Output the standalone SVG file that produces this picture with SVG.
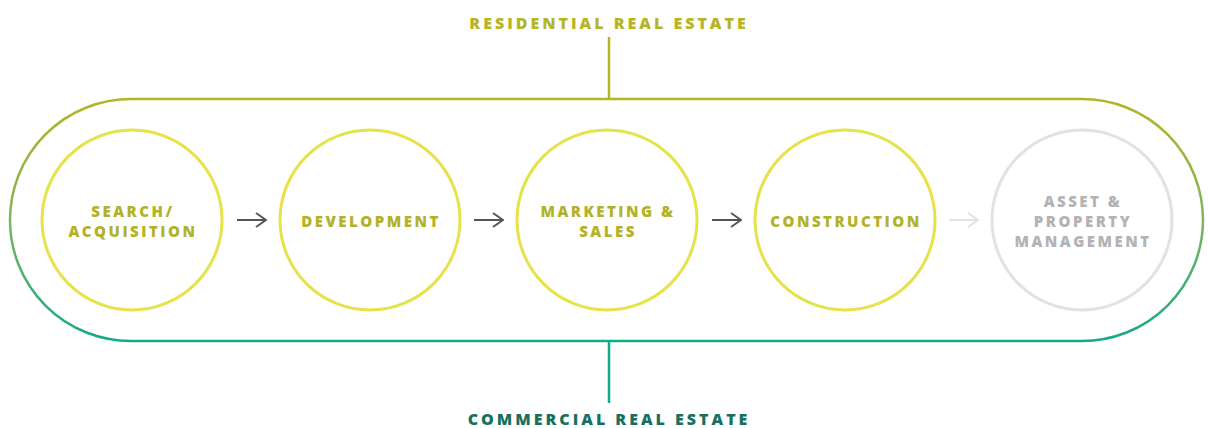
<svg xmlns="http://www.w3.org/2000/svg" width="1208" height="428" viewBox="0 0 1208 428">
  <defs>
    <linearGradient id="frameGrad" gradientUnits="userSpaceOnUse" x1="0" y1="99" x2="0" y2="341">
      <stop offset="0" stop-color="#b4b424"/>
      <stop offset="0.5" stop-color="#7fb55a"/>
      <stop offset="1" stop-color="#13a98b"/>
    </linearGradient>
    <marker id="arrowDark" viewBox="0 0 12 16" refX="11" refY="8" markerWidth="12" markerHeight="16" markerUnits="userSpaceOnUse" orient="auto">
      <path d="M1 1 L11 8 L1 15" fill="none" stroke="#555555" stroke-width="2"/>
    </marker>
    <marker id="arrowLight" viewBox="0 0 12 16" refX="11" refY="8" markerWidth="12" markerHeight="16" markerUnits="userSpaceOnUse" orient="auto">
      <path d="M1 1 L11 8 L1 15" fill="none" stroke="#e2e2e2" stroke-width="2"/>
    </marker>
  </defs>
  <style>
    .label { font-family: "Open Sans", "Liberation Sans", sans-serif; font-weight: 800; text-anchor: middle; }
    .title { font-size: 16px; letter-spacing: 3px; }
    .step { font-size: 15px; letter-spacing: 2.5px; fill: #b2b22a; }
    .stepOff { font-size: 15px; letter-spacing: 2.5px; fill: #b3b3b3; }
    .ring { fill: none; stroke: #e6e24a; stroke-width: 3; }
    .ringOff { fill: none; stroke: #e2e2e2; stroke-width: 3; }
    .link { stroke: #555555; stroke-width: 2; fill: none; }
    .linkOff { stroke: #e2e2e2; stroke-width: 2; fill: none; }
  </style>

  <rect width="1208" height="428" fill="#ffffff"/>

  <!-- market labels and their ticks -->
  <g id="residential">
    <text class="label title" x="609" y="29" fill="#b4b424">RESIDENTIAL REAL ESTATE</text>
    <line x1="609" y1="37" x2="609" y2="99" stroke="#b4b424" stroke-width="2.5"/>
  </g>
  <g id="commercial">
    <line x1="609" y1="341" x2="609" y2="403" stroke="#13a98b" stroke-width="2.5"/>
    <text class="label title" x="609" y="425" fill="#17705f">COMMERCIAL REAL ESTATE</text>
  </g>

  <!-- outer frame spanning both markets -->
  <g id="frame">
    <rect x="10" y="99" width="1193" height="242" rx="121" ry="121" fill="none" stroke="url(#frameGrad)" stroke-width="2.5"/>
  </g>

  <!-- flow connectors -->
  <g id="connectors">
    <line class="link" x1="237" y1="220" x2="266" y2="220" marker-end="url(#arrowDark)"/>
    <line class="link" x1="474" y1="220" x2="503" y2="220" marker-end="url(#arrowDark)"/>
    <line class="link" x1="712" y1="220" x2="741" y2="220" marker-end="url(#arrowDark)"/>
    <line class="linkOff" x1="949" y1="220" x2="978" y2="220" marker-end="url(#arrowLight)"/>
  </g>

  <!-- stages -->
  <g id="search">
    <circle class="ring" cx="132" cy="220" r="90"/>
    <text class="label step" x="133" y="217">SEARCH/</text>
    <text class="label step" x="133" y="237">ACQUISITION</text>
  </g>
  <g id="development">
    <circle class="ring" cx="370" cy="220" r="90"/>
    <text class="label step" x="371" y="227">DEVELOPMENT</text>
  </g>
  <g id="marketing">
    <circle class="ring" cx="607" cy="220" r="90"/>
    <text class="label step" x="608" y="217">MARKETING &amp;</text>
    <text class="label step" x="608" y="237">SALES</text>
  </g>
  <g id="construction">
    <circle class="ring" cx="845" cy="220" r="90"/>
    <text class="label step" x="846" y="227">CONSTRUCTION</text>
  </g>
  <g id="asset">
    <circle class="ringOff" cx="1082" cy="220" r="90"/>
    <text class="label stepOff" x="1083" y="207">ASSET &amp;</text>
    <text class="label stepOff" x="1083" y="227">PROPERTY</text>
    <text class="label stepOff" x="1083" y="247">MANAGEMENT</text>
  </g>
</svg>
